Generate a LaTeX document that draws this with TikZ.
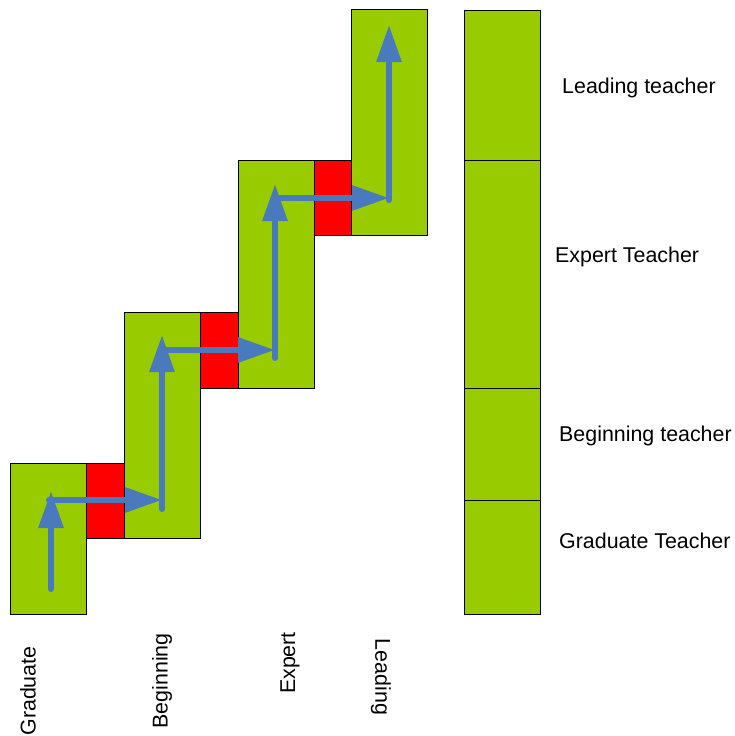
\documentclass[tikz,border=0pt]{standalone}
\usepackage{fontspec}
\setmainfont{Liberation Sans}
\usetikzlibrary{positioning,arrows.meta}
\definecolor{stagegreen}{RGB}{153,204,0}
\definecolor{gapred}{RGB}{255,0,0}
\definecolor{pathblue}{RGB}{74,122,190}
\tikzset{
  stage/.style={draw,fill=stagegreen,minimum width=76pt,inner sep=0pt,outer sep=0pt,line width=0.8pt},
  gap/.style={draw,fill=gapred,minimum width=38pt,minimum height=75.5pt,inner sep=0pt,outer sep=0pt,line width=0.8pt},
  climb/.style={draw=pathblue,line width=6pt,line cap=round,-{Triangle[length=37pt,width=24pt]}},
  lvl/.style={inner sep=0pt,font=\fontsize{21.4}{25}\selectfont}
}

\begin{document}
\begin{tikzpicture}[x=1pt,y=-1pt]
  \useasboundingbox (0,0) rectangle (734,736);

  % the staircase of stages with the red gaps between them
  \node[stage,minimum height=151pt,anchor=north west] (grad) at (10,463) {};
  \node[gap,right=0pt of grad.north east,anchor=north west] (gap1) {};
  \node[stage,minimum height=226pt,anchor=south west] (begin) at (gap1.south east) {};
  \node[gap,anchor=north west] (gap2) at (begin.north east) {};
  \node[stage,minimum height=228pt,anchor=south west] (expert) at (gap2.south east) {};
  \node[gap,minimum width=37pt,anchor=north west] (gap3) at (expert.north east) {};
  \node[stage,minimum height=226pt,anchor=south west] (lead) at (gap3.south east) {};

  % the column on the right
  \node[stage,minimum height=150pt,anchor=north west] (leadcol) at (464,10) {};
  \node[stage,minimum height=228pt,below=0pt of leadcol] (expertcol) {};
  \node[stage,minimum height=112pt,below=0pt of expertcol] (begincol) {};
  \node[stage,minimum height=114pt,below=0pt of begincol] (gradcol) {};

  \node[lvl,anchor=base west] (leadtxt) at (562,93) {Leading teacher};
  \node[lvl,anchor=base west] (experttxt) at (555,262) {Expert Teacher};
  \node[lvl,anchor=base west] (begintxt) at (559,441) {Beginning teacher};
  \node[lvl,anchor=base west] (gradtxt) at (559,548) {Graduate Teacher};

  % stage names under the staircase
  \node[lvl,rotate=90] (gradname) at (28,691) {Graduate};
  \node[lvl,rotate=90] (beginname) at (162,681) {Beginning};
  \node[lvl,rotate=90] (expertname) at (290,663) {Expert};
  \node[lvl,rotate=-90] (leadname) at (381,677) {Leading};

  % the path up the stairs
  \coordinate (a0) at (51,589);
  \coordinate (a1) at (51,491);
  \coordinate (a2) at (49,500);
  \coordinate (a3) at (162,500);
  \coordinate (b0) at (162,509);
  \coordinate (b1) at (162,335);
  \coordinate (b2) at (160,350);
  \coordinate (b3) at (275,350);
  \coordinate (c0) at (275,358);
  \coordinate (c1) at (275,184);
  \coordinate (c2) at (278,198);
  \coordinate (c3) at (389,198);
  \coordinate (d0) at (389,200);
  \coordinate (d1) at (389,25);

  \draw[climb] (a0) -- (a1);
  \draw[climb] (a2) -- (a3);
  \draw[climb] (b0) -- (b1);
  \draw[climb] (b2) -- (b3);
  \draw[climb] (c0) -- (c1);
  \draw[climb] (c2) -- (c3);
  \draw[climb] (d0) -- (d1);
\end{tikzpicture}
\end{document}
